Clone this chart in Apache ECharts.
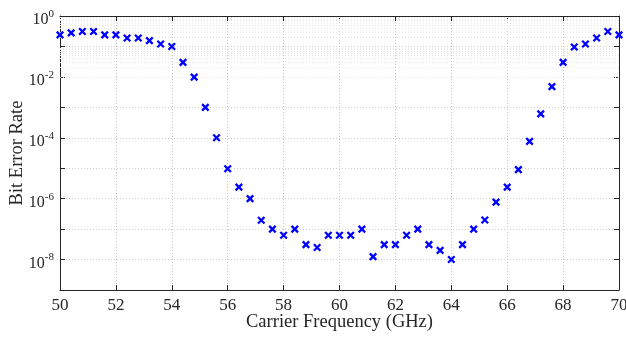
<!DOCTYPE html>
<html><head><meta charset="utf-8">
<script src="https://cdn.jsdelivr.net/npm/echarts@6/dist/echarts.min.js"></script>
<style>html,body{margin:0;padding:0;background:#fff}#c{width:626px;height:337px}</style>
</head><body><div id="c"></div>
<script>
const freqs = [50,50.4,50.8,51.2,51.6,52,52.4,52.8,53.2,53.6,54,54.4,54.8,55.2,55.6,56,56.4,56.8,57.2,57.6,58,58.4,58.8,59.2,59.6,60,60.4,60.8,61.2,61.6,62,62.4,62.8,63.2,63.6,64,64.4,64.8,65.2,65.6,66,66.4,66.8,67.2,67.6,68,68.4,68.8,69.2,69.6,70];
const ber = [0.24,0.28,0.31,0.31,0.24,0.24,0.19,0.19,0.155,0.12,0.1,0.03,0.0098,1e-3,1e-4,9.6e-6,2.4e-6,1e-6,1.95e-7,1e-7,6.3e-8,1e-7,3.1e-8,2.5e-8,6.3e-8,6.3e-8,6.3e-8,1e-7,1.25e-8,3.1e-8,3.1e-8,6.3e-8,1e-7,3.1e-8,2e-8,1e-8,3.1e-8,1e-7,2e-7,7.7e-7,2.4e-6,9e-6,7.6e-5,6.1e-4,4.8e-3,0.03,0.096,0.12,0.19,0.31,0.24];
const xTicks = [50,52,54,56,58,60,62,64,66,68,70];
const yLabelExps = [0,-2,-4,-6,-8];

const font = 'Liberation Serif';
const axisColor = '#262626';
const minorVals = [];
for (let e = -9; e < 0; e++) for (let m = 2; m <= 9; m++) minorVals.push(m * Math.pow(10, e));

const chart = echarts.init(document.getElementById('c'), null, {renderer:'canvas'});
const common = {
  axisLine:{show:true,lineStyle:{color:axisColor,width:1}},
  axisTick:{show:true,inside:true,length:5,lineStyle:{color:axisColor}},
};
chart.setOption({
  animation:false,
  grid:{left:60,right:7,top:16,bottom:47,containLabel:false,outerBoundsMode:'none'},
  xAxis:[{
    type:'value',min:50,max:70,interval:2,...common,
    axisLabel:{fontFamily:font,fontSize:17,color:axisColor,margin:7,
      formatter:v=>xTicks.includes(v)?String(v):''},
    splitLine:{show:true,lineStyle:{color:'#c8c8c8',type:[1,2],width:1}},
    name:'Carrier Frequency (GHz)',nameLocation:'middle',nameGap:23,nameMoveOverlap:false,
    nameTextStyle:{fontFamily:font,fontSize:18.5,color:axisColor}
  },{
    type:'value',min:50,max:70,interval:2,position:'top',...common,
    axisLabel:{show:false},splitLine:{show:false}
  }],
  yAxis:[{
    type:'log',logBase:10,min:1e-9,max:1,interval:1,...common,
    axisLabel:{fontFamily:font,fontSize:16,color:axisColor,margin:6,
      formatter:v=>{const e=Math.round(Math.log10(v));return yLabelExps.includes(e)?'{b|10}{s|'+e+'}':'';},
      rich:{b:{fontFamily:font,fontSize:16,color:axisColor,padding:[8,0,0,0]},
            s:{fontFamily:font,fontSize:11,color:axisColor,padding:[0,0,4,0]}}},
    splitLine:{show:true,lineStyle:{color:'#cfcfcf',type:[1,2],width:1}},
    name:'Bit Error Rate',nameLocation:'middle',nameGap:33,nameRotate:90,nameMoveOverlap:false,
    nameTextStyle:{fontFamily:font,fontSize:18.5,color:axisColor}
  },{
    type:'log',logBase:10,min:1e-9,max:1,interval:1,position:'right',...common,
    axisLabel:{show:false},splitLine:{show:false}
  }],
  series:[{
    type:'scatter',
    data:freqs.map((f,i)=>[f,ber[i]]),
    symbol:'path://M0,0L10,10M10,0L0,10',
    symbolSize:6.5,
    itemStyle:{color:'none',borderColor:'#0000ff',borderWidth:2.3,opacity:1},
    markLine:{silent:true,symbol:'none',label:{show:false},
      lineStyle:{color:'#e6e6e6',type:[1,2],width:1},
      data:minorVals.map(v=>({yAxis:v}))},
    z:5
  }]
});
</script></body></html>
